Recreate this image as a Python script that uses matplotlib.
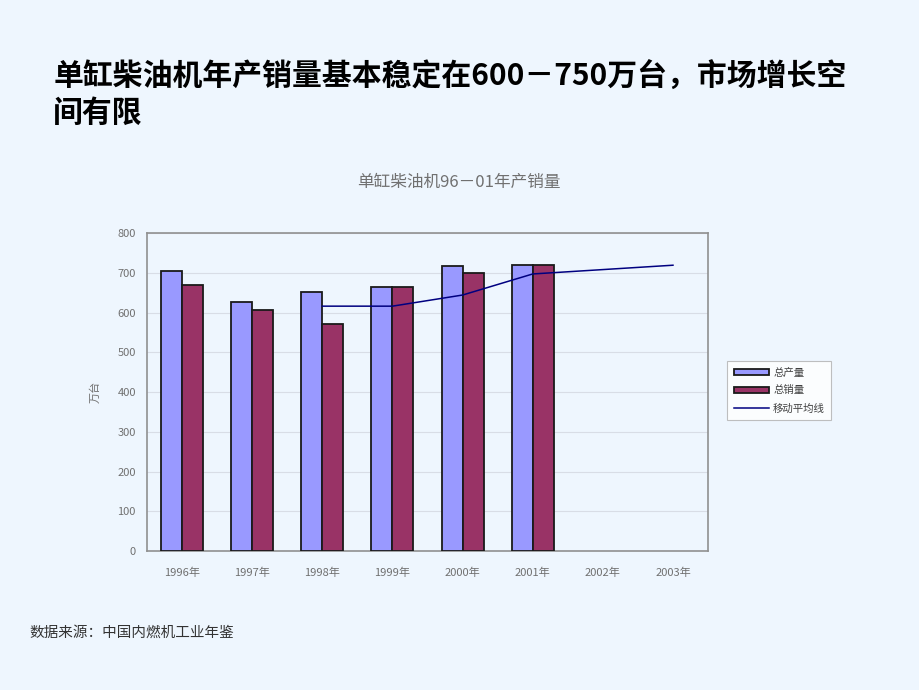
import numpy as np
import matplotlib.pyplot as plt

plt.rcParams['font.family'] = ['Noto Sans CJK SC', 'DejaVu Sans']

years = ['1996年', '1997年', '1998年', '1999年', '2000年', '2001年', '2002年', '2003年']
production = [704, 626, 651, 664, 717, 719]
sales = [669, 606, 571, 664, 699, 719]
# moving average line, from 1998 to 2003
ma_years = ['1998年', '1999年', '2000年', '2001年', '2002年', '2003年']
moving_avg = [616, 616, 644, 697, 708, 719]

bg = '#EEF6FE'
fig = plt.figure(figsize=(9.2, 6.9), dpi=100, facecolor=bg)
ax = fig.add_axes([0.1598, 0.2014, 0.6098, 0.4609], facecolor=bg)

x = np.arange(len(years))
xp = np.arange(len(production))
w = 0.3
b1 = ax.bar(xp - w / 2, production, width=w, color='#9999FF', edgecolor='#1a1a1a', linewidth=1.3, label='总产量', zorder=3)
b2 = ax.bar(xp + w / 2, sales, width=w, color='#993366', edgecolor='#1a1a1a', linewidth=1.3, label='总销量', zorder=3)
xm = [years.index(y) for y in ma_years]
l1, = ax.plot(xm, moving_avg, color='#000080', linewidth=1.1, label='移动平均线', zorder=4)

ax.set_xlim(-0.5, len(years) - 0.5)
ax.set_ylim(0, 800)
ax.set_yticks(range(0, 801, 100))
ax.set_xticks(x)
ax.set_xticklabels(years)
ax.tick_params(axis='both', length=0, labelsize=8, colors='#707070', pad=12)
ax.tick_params(axis='y', pad=8)
ax.grid(axis='y', color='#D8DDE6', linewidth=0.8, zorder=0)
for s in ax.spines.values():
    s.set_color('#909090')
    s.set_linewidth(1.2)
ax.set_ylabel('万台', fontsize=8, color='#707070', labelpad=12)

leg = ax.legend(handles=[b1, b2, l1], loc='center left', bbox_to_anchor=(1.025, 0.505), fontsize=7.5,
                frameon=True, fancybox=False, edgecolor='#B0B0B0', facecolor='white', handlelength=3.4,
                handleheight=0.5, labelspacing=0.75, borderpad=0.6, handletextpad=0.4)
leg.get_frame().set_linewidth(0.8)
for t in leg.get_texts():
    t.set_color('#404040')

fig.text(0.4985, 0.735, '单缸柴油机96－01年产销量', ha='center', va='center', fontsize=12, color='#707070')
fig.text(0.058, 0.888, '单缸柴油机年产销量基本稳定在600－750万台，市场增长空', ha='left', va='center',
         fontsize=21.5, fontweight='bold', color='black')
fig.text(0.058, 0.837, '间有限', ha='left', va='center', fontsize=21.5, fontweight='bold', color='black')
fig.text(0.032, 0.083, '数据来源：中国内燃机工业年鉴', ha='left', va='center', fontsize=10.5, color='#333333')

fig.savefig('out.png', dpi=100, facecolor=bg)
